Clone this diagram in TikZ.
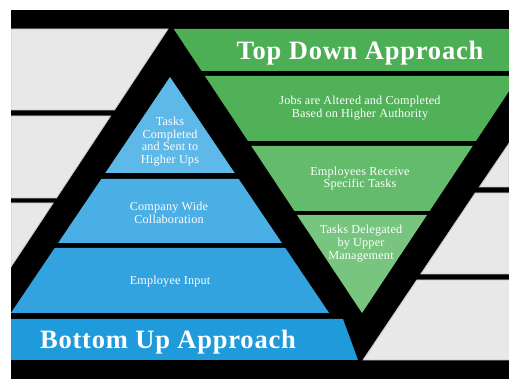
\documentclass[tikz,border=0pt]{standalone}
\usepackage{fontspec}
\setmainfont{Liberation Serif}
\begin{document}
\begin{tikzpicture}[x=1pt,y=-1pt,
  greypanel/.style={fill=panelgrey,draw=panelline,line width=0.8pt},
  label/.style={text=white,align=center,inner sep=0pt,font=\fontsize{12.2}{12.6}\selectfont\addfontfeatures{LetterSpace=1.5}},
  heading/.style={text=white,inner sep=0pt,anchor=base,font=\fontsize{26.5}{28}\selectfont\bfseries\addfontfeatures{LetterSpace=3}}]
\definecolor{panelgrey}{HTML}{E8E8E8}
\definecolor{panelline}{HTML}{C4C4C4}
\definecolor{blueA}{HTML}{5EB9E9}
\definecolor{blueB}{HTML}{4AAFE5}
\definecolor{blueC}{HTML}{33A3E0}
\definecolor{blueD}{HTML}{1F9BDC}
\definecolor{greenA}{HTML}{4CAF55}
\definecolor{greenB}{HTML}{50B158}
\definecolor{greenC}{HTML}{63BB6B}
\definecolor{greenD}{HTML}{77C57E}
\useasboundingbox (0,0) rectangle (509,379);
\fill[white] (0,0) rectangle (509,379);
\begin{scope}
\clip (11,10) rectangle (509,379);
\fill[black] (11,10) rectangle (509,379);
% side panels, left
\draw[greypanel] (11,29) -- (168,29) -- (114.5,110) -- (11,110) -- cycle;
\draw[greypanel] (11,116) -- (110.6,116) -- (56.5,198) -- (11,198) -- cycle;
\draw[greypanel] (11,203) -- (53.2,203) -- (11,266.9) -- cycle;
% side panels, right
\draw[greypanel] (509,143.3) -- (509,187) -- (479.3,187) -- cycle;
\draw[greypanel] (475.2,193) -- (511,193) -- (511,274) -- (420.8,274) -- cycle;
\draw[greypanel] (416.8,280) -- (511,280) -- (511,360) -- (363,360) -- cycle;
% bottom-up pyramid
\fill[blueA] (170,77) -- (234.7,173) -- (105.3,173) -- cycle;
\fill[blueB] (101.3,179) -- (238.7,179) -- (281.9,243) -- (58.1,243) -- cycle;
\fill[blueC] (54.7,248) -- (285.3,248) -- (329.1,313) -- (10.9,313) -- cycle;
\fill[blueD] (11,319) -- (343,319) -- (358,360) -- (11,360) -- cycle;
% top-down inverted pyramid
\fill[greenA] (173.7,29) -- (550.3,29) -- (522.4,71) -- (201.6,71) -- cycle;
\fill[greenB] (204.9,76) -- (519.1,76) -- (476,141) -- (248,141) -- cycle;
\fill[greenC] (251.3,146) -- (472.7,146) -- (429.6,211) -- (294.4,211) -- cycle;
\fill[greenD] (297,215) -- (427,215) -- (362,313) -- cycle;
\end{scope}
% labels
\node[heading] (topdown) at (360,60) {Top Down Approach};
\node[heading] (bottomup) at (168,349) {Bottom Up Approach};
\node[label] (tasks) at (170,141.5) {Tasks\\Completed\\and Sent to\\Higher Ups};
\node[label] (company) at (169,213) {Company Wide\\Collaboration};
\node[label] (input) at (170,282) {Employee Input};
\node[label] (jobs) at (360,108) {Jobs are Altered and Completed\\Based on Higher Authority};
\node[label] (receive) at (360,178.5) {Employees Receive\\Specific Tasks};
\node[label] (delegated) at (361,243.5) {Tasks Delegated\\by Upper\\Management};
\end{tikzpicture}
\end{document}
